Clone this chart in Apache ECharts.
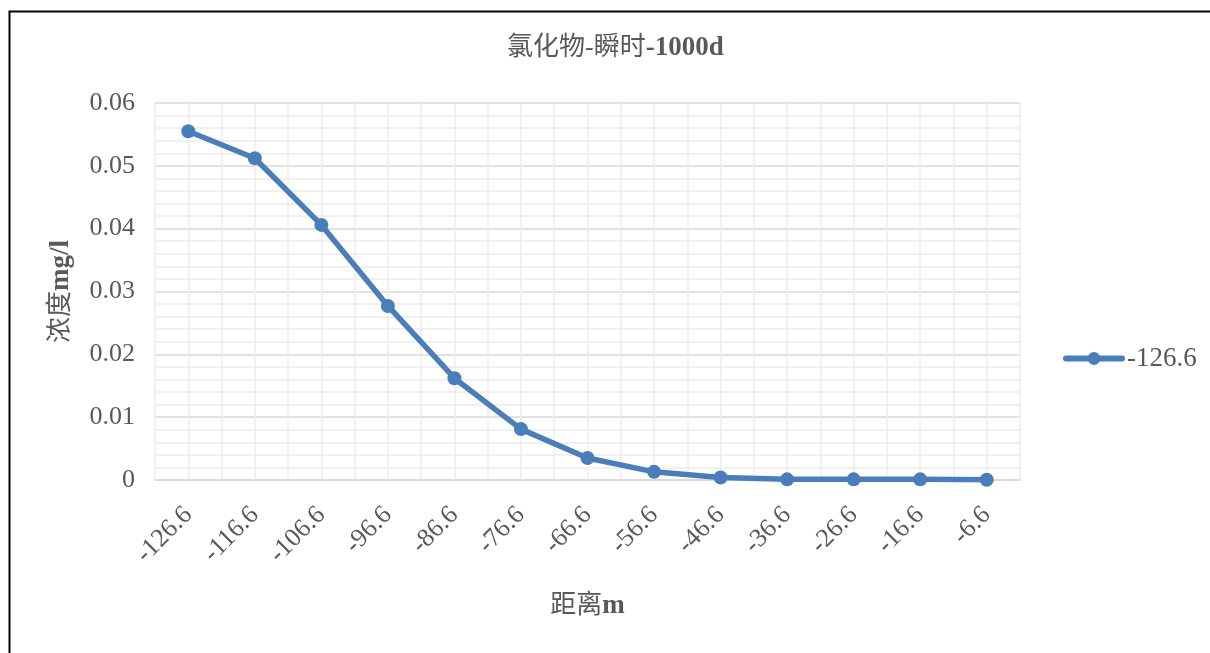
<!DOCTYPE html>
<html>
<head>
<meta charset="utf-8">
<script src="https://cdn.jsdelivr.net/npm/echarts@6/dist/echarts.min.js"></script>
<style>
  html, body { margin: 0; padding: 0; background: #fff; }
  #chart { width: 1210px; height: 653px; }
</style>
</head>
<body>
<div id="chart"></div>
<script>
// Distance categories (m) along the x axis
const distances = ['-126.6', '-116.6', '-106.6', '-96.6', '-86.6', '-76.6', '-66.6',
                   '-56.6', '-46.6', '-36.6', '-26.6', '-16.6', '-6.6'];
// Chloride concentration (mg/l) at each distance
const concentration = [0.0555, 0.0512, 0.0406, 0.0277, 0.0162, 0.0081, 0.0035,
                       0.0013, 0.0004, 0.0001, 0.0001, 0.0001, 0.00005];
const seriesName = '-126.6';
const titleMain = '氯化物-瞬时';
const titleTail = '-1000d';
const yName = ['浓度', 'mg/l'];
const xName = ['距离', 'm'];

const serif = '"Liberation Serif", "Noto Sans CJK SC", serif';
const textGray = '#595959';
const lineBlue = '#4a7ebb';

const chart = echarts.init(document.getElementById('chart'), null, { renderer: 'canvas' });

chart.setOption({
  backgroundColor: '#fff',
  animation: false,
  title: {
    text: '{a|' + titleMain + '}{b|' + titleTail + '}',
    left: 502,
    top: 30,
    textStyle: {
      fontWeight: 'normal',
      rich: {
        a: { fontFamily: serif, fontSize: 26, fontWeight: 'normal', color: textGray },
        b: { fontFamily: serif, fontSize: 27, fontWeight: 'bold', color: textGray }
      }
    }
  },
  legend: {
    data: [seriesName],
    left: 1058,
    top: 340,
    itemWidth: 56,
    itemHeight: 16,
    itemGap: 10,
    lineStyle: { width: 6 },
    textStyle: { fontFamily: serif, fontSize: 27, color: textGray }
  },
  grid: { left: 155, right: 190, top: 103, bottom: 173 },
  xAxis: [
    {
      type: 'category',
      data: distances,
      boundaryGap: true,
      axisLine: { show: true, lineStyle: { color: '#d9d9d9', width: 1.5 } },
      axisTick: { show: false },
      splitLine: { show: false },
      axisLabel: {
        rotate: 45,
        margin: 31,
        fontFamily: serif,
        fontSize: 26,
        color: textGray,
        interval: 0
      },
      name: '{a|' + xName[0] + '}{b|' + xName[1] + '}',
      nameLocation: 'middle',
      nameGap: 113,
      nameTextStyle: {
        rich: {
          a: { fontFamily: serif, fontSize: 26, fontWeight: 'normal', color: textGray },
          b: { fontFamily: serif, fontSize: 27, fontWeight: 'bold', color: textGray }
        }
      },
      z: 3
    },
    {
      // fine vertical grid at half-category spacing
      type: 'value',
      min: 0,
      max: distances.length * 2,
      interval: 1,
      position: 'bottom',
      axisLine: { show: false },
      axisTick: { show: false },
      axisLabel: { show: false },
      splitLine: { show: true, lineStyle: { color: '#ececec', width: 1.5 } },
      z: 0
    }
  ],
  yAxis: {
    type: 'value',
    min: 0,
    max: 0.06,
    interval: 0.01,
    axisLine: { show: false },
    axisTick: { show: false },
    axisLabel: {
      margin: 20,
      fontFamily: serif,
      fontSize: 26,
      color: textGray,
      formatter: v => (v === 0 ? '0' : v.toFixed(2))
    },
    splitLine: { show: true, lineStyle: { color: '#d9d9d9', width: 1.5 } },
    minorTick: { show: false, splitNumber: 5 },
    minorSplitLine: { show: true, lineStyle: { color: '#ececec', width: 1.5 } },
    name: '{a|' + yName[0] + '}{b|' + yName[1] + '}',
    nameLocation: 'middle',
    nameGap: 80,
    nameRotate: 90,
    nameTextStyle: {
      rich: {
        a: { fontFamily: serif, fontSize: 26, fontWeight: 'normal', color: textGray },
        b: { fontFamily: serif, fontSize: 27, fontWeight: 'bold', color: textGray }
      }
    }
  },
  series: [
    {
      name: seriesName,
      type: 'line',
      xAxisIndex: 0,
      data: concentration,
      symbol: 'circle',
      symbolSize: 14,
      lineStyle: { color: lineBlue, width: 5.5, cap: 'round', join: 'round' },
      itemStyle: { color: lineBlue },
      z: 5
    }
  ],
  graphic: [
    {
      // outer frame: left and top edges
      type: 'polyline',
      shape: { points: [[9.5, 653], [9.5, 11.5], [1210, 11.5]] },
      style: { stroke: '#000', lineWidth: 2, fill: null },
      z: 10
    }
  ]
});
</script>
</body>
</html>
